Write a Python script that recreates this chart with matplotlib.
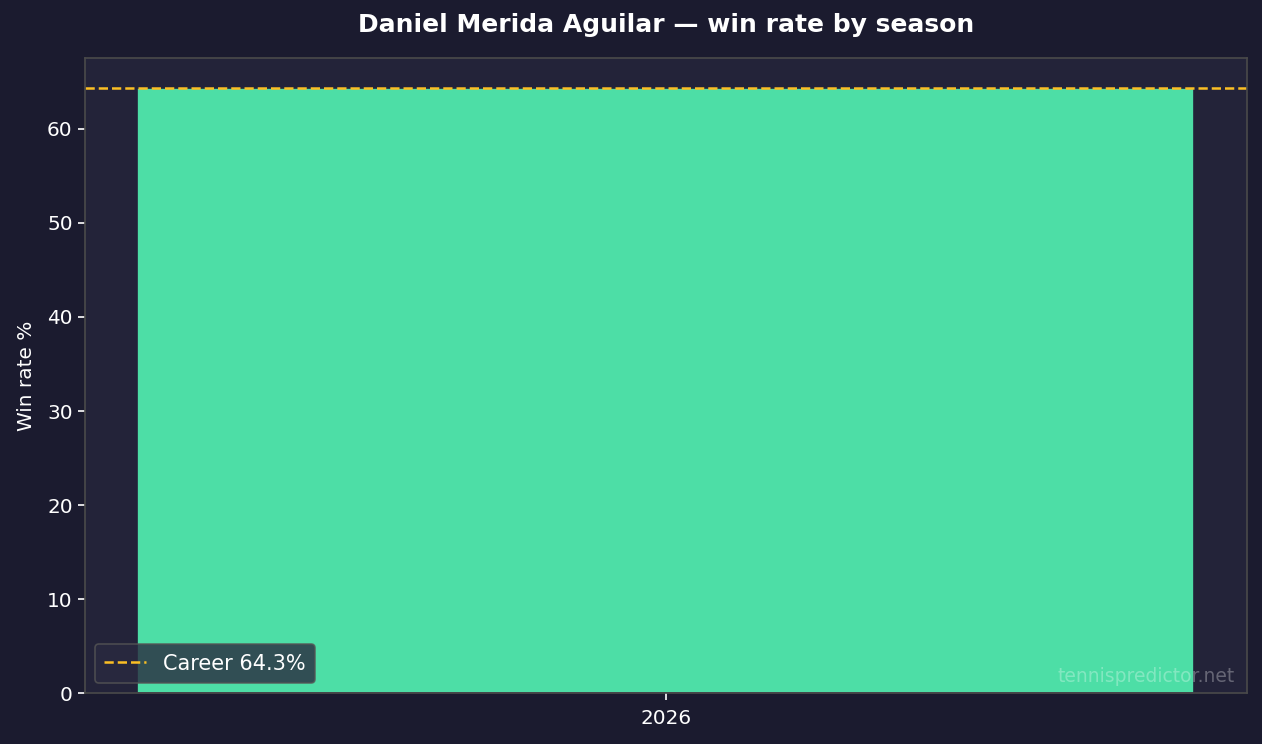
import numpy as np
import matplotlib
matplotlib.use("Agg")
import matplotlib.pyplot as plt

# season data
seasons = ["2026"]
win_rates = [64.3]
career_rate = 64.3

bg = "#1b1b2f"
ax_bg = "#232339"
bar_color = "#4ddea6"

fig, ax = plt.subplots(figsize=(12.62, 7.44), dpi=100)
fig.patch.set_facecolor(bg)
ax.set_facecolor(ax_bg)

x = np.arange(len(seasons))
ax.bar(x, win_rates, width=0.8, color=bar_color, edgecolor=ax_bg, linewidth=1.2)
ax.axhline(career_rate, color="#fbbf24", linestyle="--", linewidth=1.8,
           label=f"Career {career_rate}%")

ax.set_xticks(x)
ax.set_xticklabels(seasons)
ax.set_ylim(0, career_rate * 1.05)
ax.set_ylabel("Win rate %", color="white", fontsize=14.4, labelpad=8)
ax.set_title("Daniel Merida Aguilar \u2014 win rate by season", color="white",
             fontsize=18, fontweight="bold", pad=19)

ax.tick_params(colors="white", labelsize=14.4, length=5, width=1.2)
ax.tick_params(axis="x", pad=6)
for s in ax.spines.values():
    s.set_color("#4a4a4a")
    s.set_linewidth(1.2)

leg = ax.legend(loc="lower left", fontsize=15, facecolor="#2a2a40",
                edgecolor="#555555", labelcolor="white", framealpha=0.8,
                borderpad=0.45)
leg.get_frame().set_linewidth(1.2)

ax.text(0.99, 0.012, "tennispredictor.net", transform=ax.transAxes,
        ha="right", va="bottom", color="white", alpha=0.3, fontsize=13.5)

plt.subplots_adjust(left=0.067, right=0.988, top=0.922, bottom=0.068)
plt.savefig("out.png", dpi=100, facecolor=bg)
